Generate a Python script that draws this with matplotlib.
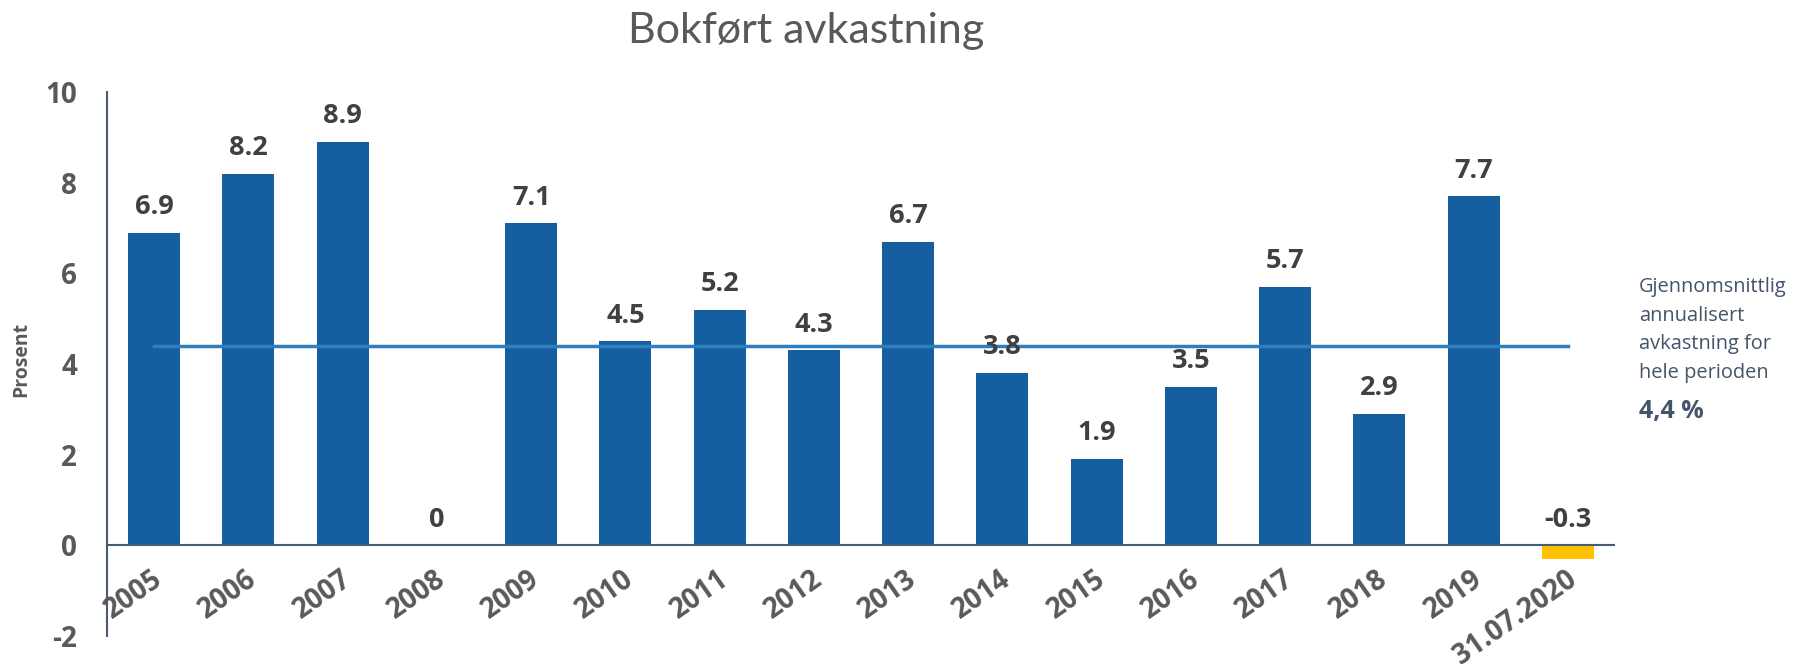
import matplotlib
matplotlib.use("Agg")
import matplotlib.pyplot as plt

plt.rcParams['axes.unicode_minus'] = False

# ---- data ----
categories = ["2005", "2006", "2007", "2008", "2009", "2010", "2011", "2012",
              "2013", "2014", "2015", "2016", "2017", "2018", "2019", "31.07.2020"]
values = [6.9, 8.2, 8.9, 0, 7.1, 4.5, 5.2, 4.3, 6.7, 3.8, 1.9, 3.5, 5.7, 2.9, 7.7, -0.3]
average = 4.4
yticks = [-2, 0, 2, 4, 6, 8, 10]
title = "Bokført avkastning"
ylabel = "Prosent"
note_lines = ["Gjennomsnittlig", "annualisert", "avkastning for", "hele perioden"]
note_value = "4,4 %"

# ---- style ----
W, H, DPI = 1797, 668, 100
bar_color = "#155FA0"
ytd_color = "#FFC000"
avg_color = "#2E7EC0"
axis_color = "#4A5A75"
tick_color = "#595959"
label_color = "#404040"
note_color = "#44546A"
FONT = "Open Sans"

fig = plt.figure(figsize=(W / DPI, H / DPI), dpi=DPI)
ax = fig.add_axes([107 / W, 1 - 636 / H, (1615 - 107) / W, (636 - 92) / H])

x = list(range(len(categories)))
colors = [bar_color] * (len(values) - 1) + [ytd_color]
ax.bar(x, values, width=0.55, color=colors, zorder=2)

# average line from first to last category
ax.plot([x[0], x[-1]], [average, average], color=avg_color, lw=2.5, zorder=3)

ax.set_xlim(-0.5, len(categories) - 0.5)
ax.set_ylim(yticks[0], yticks[-1])
ax.set_yticks(yticks)
ax.set_yticklabels([str(t) for t in yticks], fontsize=20, fontweight="bold",
                   color=tick_color, family=FONT)
ax.tick_params(axis="y", length=0, pad=21.5)
ax.set_xticks([])

for s in ["top", "right", "bottom"]:
    ax.spines[s].set_visible(False)
ax.spines["left"].set_color(axis_color)
ax.spines["left"].set_linewidth(1.5)
ax.axhline(0, color=axis_color, lw=1.5, zorder=4)

# data labels
for xi, v in zip(x, values):
    ax.annotate(f"{v:g}", xy=(xi, max(v, 0)), xytext=(0, 13.5),
                textcoords="offset points", ha="center", va="baseline",
                fontsize=19.5, fontweight="bold", color=label_color, family=FONT)

# category labels just below the zero line
for xi, c in zip(x, categories):
    ax.annotate(c, xy=(xi, 0), xytext=(-2, -14), textcoords="offset points",
                ha="right", va="top", rotation=35, rotation_mode="anchor",
                fontsize=20, fontweight="bold", color=tick_color, family=FONT)

# y label (sized so its length matches the reference, ~75 px)
yl = fig.text(21 / W, 1 - 359 / H, ylabel, rotation=90, ha="center", va="center",
              fontsize=14, fontweight="bold", color=tick_color, family=FONT)
renderer = fig.canvas.get_renderer()
h = yl.get_window_extent(renderer).height
if h > 0:
    yl.set_fontsize(14 * 75.0 / h)

# title
fig.text(806 / W, 1 - 43 / H, title, ha="center", va="baseline",
         fontsize=31, color=tick_color, family="Lato")

# note on the right
for i, line in enumerate(note_lines):
    fig.text(1639 / W, 1 - (292 + 28.7 * i) / H, line, ha="left", va="baseline",
             fontsize=14.4, color=note_color, family=FONT)
fig.text(1639 / W, 1 - 418 / H, note_value, ha="left", va="baseline",
         fontsize=18, fontweight="bold", color=note_color, family=FONT)

fig.savefig("out.png", dpi=DPI)
